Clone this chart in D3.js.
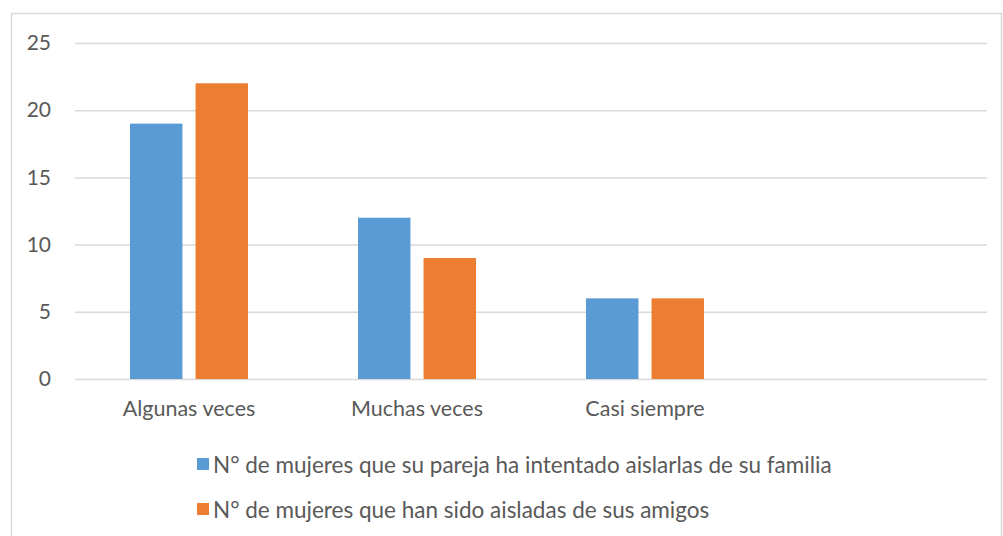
<!DOCTYPE html>
<html>
<head>
<meta charset="utf-8">
<script src="https://cdn.jsdelivr.net/npm/d3@7"></script>
<style>
  body { margin: 0; background: #fff; }
  svg text { font-family: Lato, "Open Sans", sans-serif; fill: #595959; }
</style>
</head>
<body>
<svg width="1003" height="536"></svg>
<script>
"use strict";

// data
const categories = ["Algunas veces", "Muchas veces", "Casi siempre", ""];
const familia = [19, 12, 6, null];
const amigos = [22, 9, 6, null];
const seriesNames = [
  "N° de mujeres que su pareja ha intentado aislarlas de su familia",
  "N° de mujeres que han sido aisladas de sus amigos",
];
const yTicks = [0, 5, 10, 15, 20, 25];
const colors = ["#5b9bd5", "#ed7d31"];

const svg = d3.select("svg");

// chart frame
svg.append("rect")
  .attr("x", 11.5).attr("y", 13.5)
  .attr("width", 990).attr("height", 540)
  .attr("fill", "none").attr("stroke", "#d9d9d9").attr("stroke-width", 1.5);

const margin = { top: 43, left: 75, right: 16, bottom: 157 };
const width = 1003, height = 536;
const innerWidth = width - margin.left - margin.right;
const innerHeight = height - margin.top - margin.bottom;

const g = svg.append("g").attr("transform", `translate(${margin.left},${margin.top})`);

const x = d3.scaleBand().domain(d3.range(categories.length)).range([0, innerWidth]);
const x1 = d3.scaleBand().domain([0, 1]).range([55, x.bandwidth() - 55]).paddingInner(0.2);
const y = d3.scaleLinear().domain([0, 25]).range([innerHeight, 0]);

// grid + y labels
const yAxis = d3.axisLeft(y).tickValues(yTicks).tickSize(-innerWidth).tickPadding(24);
const yg = g.append("g").call(yAxis);
yg.select(".domain").remove();
yg.selectAll(".tick line").attr("stroke", "#d9d9d9").attr("stroke-width", 1.5);
yg.selectAll(".tick text").style("font-size", "21px").attr("fill", "#595959");

// x labels (skip the empty fourth slot)
const xAxis = d3.axisBottom(x).tickValues([0, 1, 2]).tickFormat((i) => categories[i]).tickSize(0).tickPadding(22);
const xg = g.append("g").attr("transform", `translate(0,${innerHeight})`).call(xAxis);
xg.select(".domain").remove();
xg.selectAll(".tick text").style("font-size", "21.5px").attr("fill", "#595959");

// bars
const seriesData = [familia, amigos];
seriesData.forEach((vals, s) => {
  g.selectAll(null)
    .data(vals.map((v, i) => ({ v, i })).filter((d) => d.v != null))
    .enter()
    .append("rect")
    .attr("x", (d) => x(d.i) + x1(s))
    .attr("y", (d) => y(d.v))
    .attr("width", x1.bandwidth())
    .attr("height", (d) => innerHeight - y(d.v))
    .attr("fill", colors[s]);
});

// legend
const legend = svg.append("g");
seriesNames.forEach((name, s) => {
  const ly = 464 + s * 45;
  legend.append("rect")
    .attr("x", 197).attr("y", ly - 6).attr("width", 12).attr("height", 12)
    .attr("fill", colors[s]);
  legend.append("text")
    .attr("x", 213).attr("y", ly)
    .attr("dominant-baseline", "central")
    .style("font-size", "22.5px")
    .text(name);
});
</script>
</body>
</html>
